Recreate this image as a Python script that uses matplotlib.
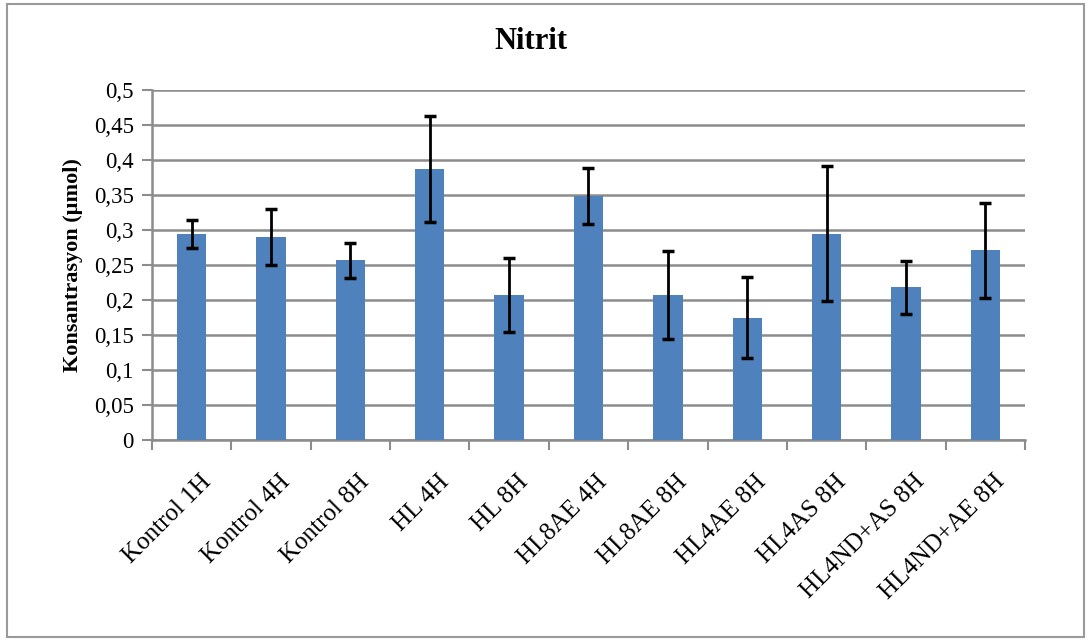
import matplotlib
matplotlib.use("Agg")
import matplotlib.pyplot as plt
from matplotlib.patches import Rectangle
from matplotlib.ticker import FuncFormatter
from matplotlib.transforms import ScaledTranslation

categories = ["Kontrol 1H", "Kontrol 4H", "Kontrol 8H", "HL 4H", "HL 8H", "HL8AE 4H",
              "HL8AE 8H", "HL4AE 8H", "HL4AS 8H", "HL4ND+AS 8H", "HL4ND+AE 8H"]
values = [0.295, 0.290, 0.257, 0.387, 0.207, 0.348, 0.207, 0.175, 0.295, 0.218, 0.271]
errors = [0.020, 0.040, 0.025, 0.076, 0.053, 0.040, 0.063, 0.058, 0.097, 0.038, 0.068]
yticks = [0, 0.05, 0.1, 0.15, 0.2, 0.25, 0.3, 0.35, 0.4, 0.45, 0.5]

plt.rcParams['font.family'] = ['Liberation Serif', 'DejaVu Serif']

fig = plt.figure(figsize=(10.91, 6.43), dpi=100)
ax = fig.add_axes([0.1393, 0.3157, 0.8002, 0.5443])

x = list(range(len(categories)))
ax.bar(x, values, width=0.37, color="#4F81BD", zorder=3,
       yerr=errors, error_kw=dict(ecolor="black", elinewidth=2, capsize=4.5, capthick=2.5, zorder=4))

ax.set_xlim(-0.5, len(categories) - 0.5)
ax.set_ylim(0, 0.5)
ax.set_yticks(yticks)
ax.yaxis.set_major_formatter(FuncFormatter(lambda v, p: ("%g" % v).replace(".", ",")))
ax.grid(axis="y", color="#8c8c8c", linewidth=1.8, zorder=0)
ax.set_axisbelow(True)

# category boundaries for x ticks
ax.set_xticks([i - 0.5 for i in range(len(categories) + 1)])
ax.set_xticklabels([])
ax.set_xticks(x, minor=True)
ax.set_xticklabels(categories, minor=True, rotation=45, ha="right", rotation_mode="anchor", fontsize=18)
ax.tick_params(axis="x", which="minor", length=0, pad=22)
ax.tick_params(axis="x", which="major", length=7, width=1.5, color="#8c8c8c", direction="out")
ax.tick_params(axis="y", length=7, width=1.5, color="#8c8c8c", labelsize=16.5, pad=6)
offset = ScaledTranslation(8 / 100, 0, fig.dpi_scale_trans)
for lbl in ax.get_xticklabels(minor=True):
    lbl.set_transform(lbl.get_transform() + offset)

for s in ["top", "right"]:
    ax.spines[s].set_visible(False)
for s in ["left", "bottom"]:
    ax.spines[s].set_color("#8c8c8c")
    ax.spines[s].set_linewidth(1.8)

ax.set_ylabel("Konsantrasyon (µmol)", fontsize=16, fontweight="bold", labelpad=8)
fig.text(0.487, 0.935, "Nitrit", ha="center", va="center", fontsize=22, fontweight="bold")

fig.patches.append(Rectangle((0.006, 0.009), 0.988, 0.985, transform=fig.transFigure,
                             fill=False, edgecolor="#9a9a9a", linewidth=1.5))

fig.savefig("out.png", dpi=100)
